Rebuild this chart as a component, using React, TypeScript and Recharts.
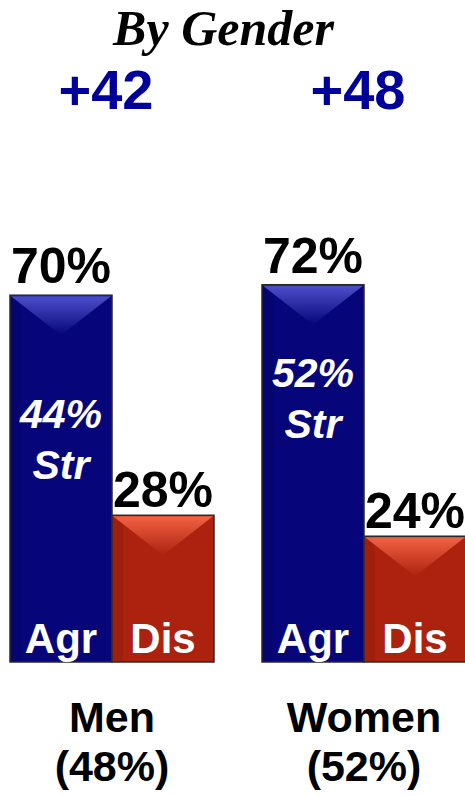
import React from 'react'
import { BarChart, Bar, XAxis, YAxis, LabelList } from 'recharts'

// chart values
const categories = ['Men', 'Women']
const shares = [48, 52]
const agree = [70, 72]
const disagree = [28, 24]
const strong = [44, 52]
const net = [42, 48]
const seriesNames = ['Agr', 'Dis']

const data = categories.map((name, i) => ({
    name,
    share: shares[i],
    agr: agree[i],
    dis: disagree[i],
    str: strong[i],
    net: net[i],
}))

const SANS = '"Liberation Sans", Arial, sans-serif'

// bar with a beveled top, like the old powerpoint look
function BevelBar(props: any) {
    const { x, y, width, height, payload, base, light, label, showStr } = props
    if (!height || height <= 0) return null
    const depth = Math.min(40, height / 2)
    const id = `hi-${label}-${props.index}`
    let strY = 0
    if (showStr) {
        strY = y + height - (payload.str * height) / payload.agr
    }
    return (
        <g>
            <defs>
                <linearGradient id={id} x1="0" y1="0" x2="0" y2="1">
                    <stop offset="0%" stopColor={light} stopOpacity={1} />
                    <stop offset="100%" stopColor={light} stopOpacity={0} />
                </linearGradient>
            </defs>
            <rect x={x} y={y} width={width} height={height} fill={base} stroke="#2a2a2a" strokeWidth={1.5} />
            <rect x={x + 1} y={y + 1} width={10} height={height - 2} fill="#000" opacity={0.08} />
            <polygon
                points={`${x + 1},${y + 1} ${x + width - 1},${y + 1} ${x + width / 2},${y + depth}`}
                fill={`url(#${id})`}
                opacity={0.85}
            />
            {showStr && (
                <text
                    x={x + width / 2}
                    y={strY - 3}
                    textAnchor="middle"
                    fill="#fff"
                    fontFamily={SANS}
                    fontWeight="bold"
                    fontStyle="italic"
                    fontSize={41}
                >
                    <tspan x={x + width / 2}>{`${payload.str}%`}</tspan>
                    <tspan x={x + width / 2} dy={51}>Str</tspan>
                </text>
            )}
            <text
                x={x + width / 2}
                y={y + height - 9}
                textAnchor="middle"
                fill="#fff"
                fontFamily={SANS}
                fontWeight="bold"
                fontSize={42}
            >
                {label}
            </text>
        </g>
    )
}

function CategoryTick(props: any) {
    const { x, y, payload, index } = props
    return (
        <text x={x} y={y} textAnchor="middle" fill="#000" fontFamily={SANS} fontWeight="bold" fontSize={43}>
            <tspan x={x} dy={62}>{payload.value}</tspan>
            <tspan x={x} dy={49}>{`(${shares[index]}%)`}</tspan>
        </text>
    )
}

function NetTick(props: any) {
    const { x, y, index } = props
    return (
        <text x={x - 6} y={y - 21} textAnchor="middle" fill="#00009a" fontFamily={SANS} fontWeight="bold" fontSize={56}>
            {`+${net[index]}`}
        </text>
    )
}

export default function App() {
    return (
        <div style={{ position: 'relative', width: 465, height: 796, overflow: 'hidden', background: '#fff' }}>
            <style>{'body{margin:0}'}</style>
            <div
                style={{
                    position: 'absolute',
                    top: 0,
                    left: 0,
                    width: 447,
                    textAlign: 'center',
                    fontFamily: '"Liberation Serif", "Times New Roman", serif',
                    fontWeight: 'bold',
                    fontStyle: 'italic',
                    fontSize: 50,
                    lineHeight: '56px',
                }}
            >
                By Gender
            </div>
            <div style={{ position: 'absolute', top: 0, left: -14 }}>
                <BarChart
                    width={504}
                    height={796}
                    data={data}
                    margin={{ top: 78, right: 0, bottom: 34, left: 0 }}
                    barGap={0}
                    barSize={102}
                >
                    <YAxis hide domain={[0, 100]} />
                    <XAxis
                        dataKey="name"
                        height={100}
                        axisLine={false}
                        tickLine={false}
                        tick={<CategoryTick />}
                        interval={0}
                    />
                    <XAxis
                        xAxisId="top"
                        orientation="top"
                        dataKey="name"
                        height={60}
                        axisLine={false}
                        tickLine={false}
                        tick={<NetTick />}
                        interval={0}
                    />
                    <Bar
                        dataKey="agr"
                        isAnimationActive={false}
                        shape={(p: any) => (
                            <BevelBar {...p} base="#06067a" light="#5a5ad8" label={seriesNames[0]} showStr />
                        )}
                    >
                        <LabelList
                            dataKey="agr"
                            position="top"
                            offset={12}
                            formatter={(v: any) => `${v}%`}
                            fill="#000"
                            fontFamily={SANS}
                            fontWeight="bold"
                            fontSize={50}
                        />
                    </Bar>
                    <Bar
                        dataKey="dis"
                        isAnimationActive={false}
                        shape={(p: any) => (
                            <BevelBar {...p} base="#ac220e" light="#ff6e4e" label={seriesNames[1]} />
                        )}
                    >
                        <LabelList
                            dataKey="dis"
                            position="top"
                            offset={8}
                            formatter={(v: any) => `${v}%`}
                            fill="#000"
                            fontFamily={SANS}
                            fontWeight="bold"
                            fontSize={50}
                        />
                    </Bar>
                </BarChart>
            </div>
        </div>
    )
}
